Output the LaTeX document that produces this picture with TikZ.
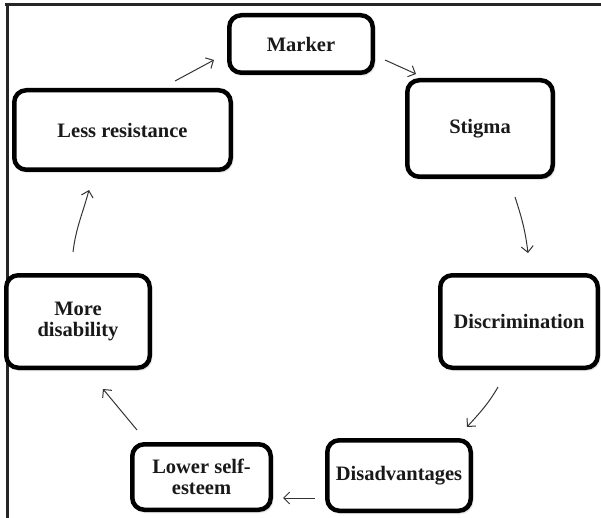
\documentclass[tikz,border=0pt]{standalone}
\usepackage{fontspec}
\setmainfont{Liberation Serif}
\usetikzlibrary{arrows.meta,shadows.blur}
\begin{document}
\begin{tikzpicture}[x=1pt,y=1pt,
  stagebox/.style={draw=black, line width=4.5pt, rounded corners=12pt, fill=white,
    align=center, inner sep=0pt,
    font=\fontsize{20.5}{20.5}\selectfont\bfseries, text=black!90,
    blur shadow={shadow xshift=1.5pt, shadow yshift=-2pt, shadow blur steps=6, shadow opacity=35}},
  flow/.style={draw=black!80, line width=1pt, -{Straight Barb[length=6pt,width=12pt,line width=1pt]}},
  frameline/.style={draw=black!85, line width=3pt}
]
\useasboundingbox (0,0) rectangle (601,517);

% outer frame (top and left edges only)
\draw[frameline] (5,512) -- (601,512);
\draw[frameline] (7,512) -- (7,-2);

% stages of the cycle
\node[stagebox, minimum width=143.5pt, minimum height=57.5pt]  (marker) at (301,473)   {Marker};
\node[stagebox, minimum width=145.5pt, minimum height=96.5pt]  (stigma) at (480,388.5) {Stigma};
\node[stagebox, minimum width=157.5pt, minimum height=92.5pt]  (discr)  at (519,195.5) {Discrimination};
\node[stagebox, minimum width=143.5pt, minimum height=70.5pt]  (disadv) at (399,41.5)  {Disadvantages};
\node[stagebox, minimum width=138.5pt, minimum height=65.5pt]  (lower)  at (201.5,40)  {Lower self-\\esteem};
\node[stagebox, minimum width=143.5pt, minimum height=92.5pt]  (more)   at (78,195.5)  {More\\disability};
\node[stagebox, minimum width=216.5pt, minimum height=79.5pt]  (less)   at (122.5,387) {Less resistance};

% arrow end points in the gaps between stages
\coordinate (less-out)   at (175,436);
\coordinate (marker-in)  at (214,457);
\coordinate (marker-out) at (385,457);
\coordinate (stigma-in)  at (416,443);
\coordinate (stigma-out) at (515,320);
\coordinate (discr-in)   at (528,264);
\coordinate (discr-out)  at (498,130);
\coordinate (disadv-in)  at (467,90);
\coordinate (disadv-out) at (315,19);
\coordinate (lower-in)   at (283,19);
\coordinate (lower-out)  at (137,87);
\coordinate (more-in)    at (103,128);
\coordinate (more-out)   at (73,265);
\coordinate (less-in)    at (89,327);

% arrows of the cycle
\draw[flow] (less-out) -- (marker-in);
\draw[flow] (marker-out) -- (stigma-in);
\draw[flow] (stigma-out) to[out=-72,in=97] (discr-in);
\draw[flow] (discr-out) to[out=-120,in=48] (disadv-in);
\draw[flow] (disadv-out) -- (lower-in);
\draw[flow] (lower-out) -- (more-in);
\draw[flow] (more-out) to[out=83,in=-105] (less-in);
\end{tikzpicture}
\end{document}
